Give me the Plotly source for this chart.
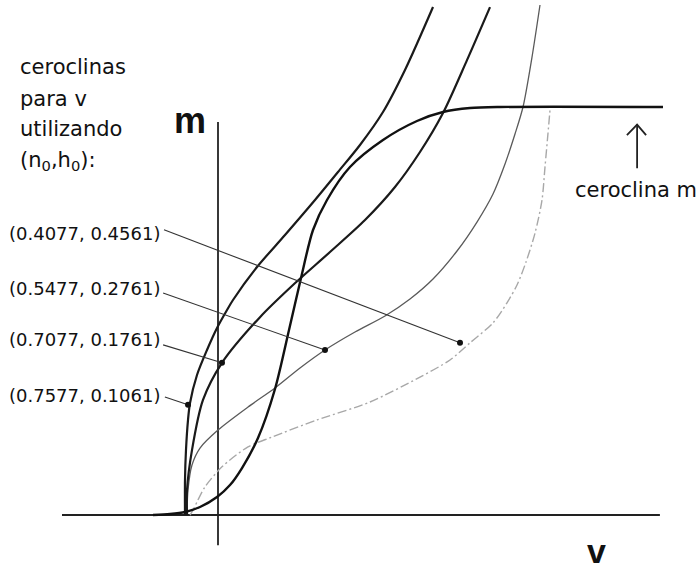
import plotly.graph_objects as go

# ---- data (v in arbitrary mV-like units, m gating variable) ----
m_null_v = [-21.67, -16, -11, -6, -0.33, 4, 8, 13.33, 19, 23.67, 27.67, 31.67, 36.33, 44, 55, 66.33, 75, 84, 94, 148.33]
m_null_m = [0, 0.0025, 0.0074, 0.0196, 0.0441, 0.0735, 0.1152, 0.1887, 0.3088, 0.4534, 0.5809, 0.6985, 0.7721, 0.8529, 0.9191, 0.9657, 0.9877, 0.9975, 1.0, 1.0]

c1_v = [-11, -11, -10.67, -10, -9.33, -7, -3.67, -0.33, 3, 5, 13, 22.33, 32.33, 40, 47.33, 55, 62.33, 71.67]
c1_m = [0, 0.0858, 0.1593, 0.2328, 0.2745, 0.3431, 0.4044, 0.4583, 0.5025, 0.527, 0.6078, 0.6863, 0.7721, 0.8407, 0.9069, 0.9877, 1.0907, 1.2451]

c2_v = [-10.33, -10.33, -8.67, -5, 1.33, 14, 25, 37.33, 49, 59, 67.33, 75, 83, 90.67]
c2_m = [0, 0.061, 0.159, 0.282, 0.373, 0.485, 0.5637, 0.6446, 0.723, 0.8039, 0.8897, 0.9853, 1.115, 1.245]

c3_v = [-10.33, -10, -8.67, -6, 0, 10, 19, 27.33, 35.67, 45.67, 55.67, 64, 71.67, 79.67, 86.33, 91.67, 95.67, 99, 101.67, 104.67, 107.33]
c3_m = [0, 0.0613, 0.1225, 0.1642, 0.2083, 0.2647, 0.3113, 0.3603, 0.4044, 0.4485, 0.4877, 0.5294, 0.5784, 0.6471, 0.7181, 0.7868, 0.8603, 0.9338, 1.0, 1.1225, 1.25]

c4_v = [-9.33, -8.33, -6.67, -4.33, 1.33, 10, 18, 33, 50.67, 67.33, 77.33, 84, 91.67, 96.33, 99.67, 102.67, 105.67, 108, 109, 110, 110.67]
c4_m = [0, 0.012, 0.037, 0.069, 0.118, 0.167, 0.1912, 0.233, 0.277, 0.338, 0.38, 0.422, 0.471, 0.52, 0.5637, 0.6201, 0.691, 0.772, 0.853, 0.936, 0.993]

labels = ["(0.4077, 0.4561)", "(0.5477, 0.2761)", "(0.7077, 0.1761)", "(0.7577, 0.1061)"]
label_m = [0.689, 0.556, 0.429, 0.294]
ptr_start_v = [-18, -18.3, -18.3, -17.7]
ptr_start_m = [0.699, 0.544, 0.417, 0.289]
dot_v = [80.67, 35.67, 1.33, -10]
dot_m = [0.422, 0.4044, 0.373, 0.27]

intro_lines = ["ceroclinas", "para v", "utilizando", "(n<sub>0</sub>,h<sub>0</sub>):"]
intro_m = [1.098, 1.02, 0.946, 0.868]

xaxis_v = [-52, 147.3]
yaxis_m = [-0.074, 0.963]

arrow_v = [136.3, 139.7, 142.7, None, 139.7, 139.7]
arrow_m = [0.931, 0.957, 0.931, None, 0.957, 0.85]

V_MIN, V_MAX = -72.667, 160.333
M_MIN, M_MAX = -0.1495, 1.2623

fig = go.Figure()

# axes
fig.add_trace(go.Scatter(x=xaxis_v, y=[0, 0], mode="lines", line=dict(color="#222", width=1.8), hoverinfo="skip"))
fig.add_trace(go.Scatter(x=[0, 0], y=yaxis_m, mode="lines", line=dict(color="#222", width=1.8), hoverinfo="skip"))

# v-nullclines
fig.add_trace(go.Scatter(x=c4_v, y=c4_m, mode="lines", line=dict(color="#a8a8a8", width=1.4, dash="9px,3px,2px,3px", shape="spline", smoothing=0.8)))
fig.add_trace(go.Scatter(x=c3_v, y=c3_m, mode="lines", line=dict(color="#5a5a5a", width=1.3, shape="spline", smoothing=0.8)))
fig.add_trace(go.Scatter(x=c2_v, y=c2_m, mode="lines", line=dict(color="#1a1a1a", width=2.2, shape="spline", smoothing=0.8)))
fig.add_trace(go.Scatter(x=c1_v, y=c1_m, mode="lines", line=dict(color="#1a1a1a", width=2.2, shape="spline", smoothing=0.8)))

# m-nullcline
fig.add_trace(go.Scatter(x=m_null_v, y=m_null_m, mode="lines", line=dict(color="#111", width=2.4, shape="spline", smoothing=0.8)))

# pointer lines and dots
for sv, sm, dv, dm in zip(ptr_start_v, ptr_start_m, dot_v, dot_m):
    fig.add_trace(go.Scatter(x=[sv, dv], y=[sm, dm], mode="lines", line=dict(color="#333", width=1.1)))
fig.add_trace(go.Scatter(x=dot_v, y=dot_m, mode="markers", marker=dict(color="#111", size=6)))

# arrow for m-nullcline
fig.add_trace(go.Scatter(x=arrow_v, y=arrow_m, mode="lines", line=dict(color="#222", width=1.8)))

txt_font = dict(family="DejaVu Sans", size=18, color="#111")
for lab, lm in zip(labels, label_m):
    fig.add_annotation(x=-70.3, y=lm, text=lab, showarrow=False, xanchor="left", yanchor="middle", font=txt_font)

for line, lm in zip(intro_lines, intro_m):
    fig.add_annotation(x=-66.7, y=lm, text=line, showarrow=False, xanchor="left", yanchor="middle",
                       font=dict(family="DejaVu Sans", size=21, color="#111"))

fig.add_annotation(x=118.3, y=0.797, text="ceroclina m", showarrow=False, xanchor="left", yanchor="middle",
                   font=dict(family="DejaVu Sans", size=21, color="#111"))

fig.add_annotation(x=-9.3, y=0.968, text="<b>m</b>", showarrow=False, xanchor="center", yanchor="middle",
                   font=dict(family="Liberation Sans", size=36, color="#111"))
fig.add_annotation(x=126.3, y=-0.088, text="<b>v</b>", showarrow=False, xanchor="center", yanchor="middle",
                   font=dict(family="Liberation Sans", size=34, color="#111"))

fig.update_layout(
    width=699, height=576,
    margin=dict(l=0, r=0, t=0, b=0),
    paper_bgcolor="white", plot_bgcolor="white",
    showlegend=False,
    xaxis=dict(range=[V_MIN, V_MAX], visible=False, fixedrange=True),
    yaxis=dict(range=[M_MIN, M_MAX], visible=False, fixedrange=True),
)

fig.write_html("out.html")
